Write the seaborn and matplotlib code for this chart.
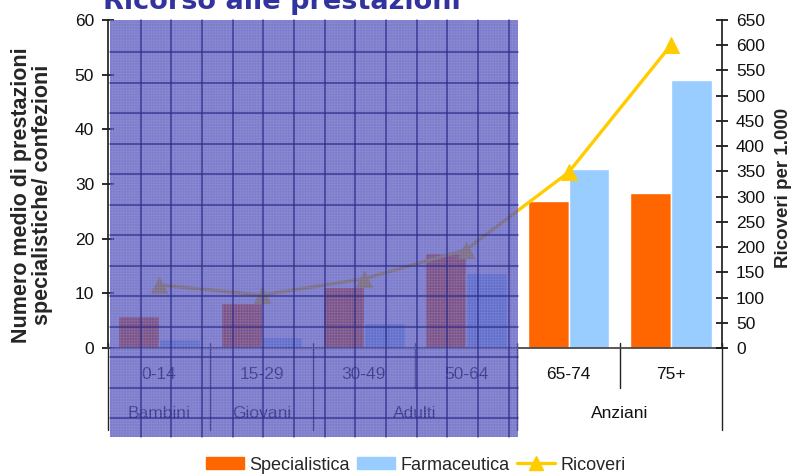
import seaborn as sns
import matplotlib.pyplot as plt
import matplotlib.patches as mpatches
import matplotlib.lines as mlines
import matplotlib.transforms as mtransforms
import numpy as np
import pandas as pd

# Data
fasce = ['0-14', '15-29', '30-49', '50-64', '65-74', '75+']
gruppi = ['Bambini', 'Giovani', 'Adulti', 'Anziani']
gruppi_pos = [0, 1, 2.5, 4.5]
specialistica = [5.9, 8.3, 11.2, 17.3, 26.8, 28.4]
farmaceutica = [1.6, 2.0, 4.5, 13.7, 32.7, 49.0]
ricoveri = [125, 105, 137, 195, 348, 600]

col_spec = '#FF6600'
col_farm = '#99CCFF'
col_ric = '#FFCC00'

df = pd.DataFrame({
    'fascia': fasce * 2,
    'valore': specialistica + farmaceutica,
    'serie': ['Specialistica'] * 6 + ['Farmaceutica'] * 6,
})

sns.set_theme(style='white')
plt.rcParams['font.family'] = ['Liberation Sans', 'DejaVu Sans']
plt.rcParams['hatch.linewidth'] = 0.6

fig = plt.figure(figsize=(7.96, 4.76), dpi=100)
ax = fig.add_axes([108 / 796, 1 - 348 / 476, 614 / 796, 328 / 476])

sns.barplot(data=df, x='fascia', y='valore', hue='serie', order=fasce,
            palette=[col_spec, col_farm], saturation=1, width=0.8, ax=ax,
            legend=False)
ax.set_ylim(0, 60)
ax.set_yticks(range(0, 61, 10))
ax.set_xlim(-0.5, 5.5)
ax.set_xlabel('')
ax.set_ylabel('Numero medio di prestazioni\nspecialistiche/ confezioni',
              fontsize=15.5, fontweight='bold', linespacing=1.05)
ax.yaxis.set_label_coords(-0.089, 0.466)

# Secondary axis for hospital admissions
ax2 = ax.twinx()
sns.lineplot(x=fasce, y=ricoveri, ax=ax2, color=col_ric, linewidth=2.4,
             marker='^', markersize=12, markeredgecolor=col_ric, sort=False)
ax2.set_ylim(0, 650)
ax2.set_yticks(range(0, 651, 50))
ax2.set_xlim(-0.5, 5.5)
ax2.set_ylabel('Ricoveri per 1.000', fontsize=13.5, fontweight='bold')
ax2.yaxis.set_label_coords(1.086, 0.489)

for a in (ax, ax2):
    a.spines['top'].set_visible(False)
    a.tick_params(axis='x', length=0, labelbottom=False)
    a.tick_params(axis='y', direction='inout', length=8, labelsize=12.5,
                  colors='#111111', pad=6)
ax.spines['right'].set_visible(False)
ax2.spines['left'].set_visible(False)
ax2.spines['bottom'].set_visible(False)
ax.spines['left'].set_color('#222222')
ax2.spines['right'].set_color('#222222')
ax.spines['bottom'].set_color('#444444')

# Two-level category axis
trans = mtransforms.blended_transform_factory(ax.transData, ax.transAxes)
for i, lab in enumerate(fasce):
    ax.text(i, -0.082, lab, transform=trans, ha='center', va='center',
            fontsize=12.5, color='#111111')
for p, lab in zip(gruppi_pos, gruppi):
    ax.text(p, -0.2, lab, transform=trans, ha='center', va='center',
            fontsize=12.5, color='#111111')
for sx in [-0.5, 0.5, 1.5, 2.5, 3.5, 4.5, 5.5]:
    low = -0.122 if sx in (2.5, 4.5) else -0.25
    ax.plot([sx, sx], [0.015, low], transform=trans, color='#222222',
            lw=1, clip_on=False)

# Title (cut at the top edge, as in the original slide)
fig.text(103 / 796, 1 - 9 / 476, 'Ricorso alle prestazioni', fontsize=19.5,
         fontweight='bold', color='#3333A0', ha='left', va='baseline',
         family=['DejaVu Sans'])

# Blue gridded overlay on the left part
x0, x1, y0, y1 = 110, 518, 20, 437
overlay = mpatches.Rectangle((x0 / 796, 1 - y1 / 476), (x1 - x0) / 796,
                             (y1 - y0) / 476, transform=fig.transFigure,
                             facecolor=(0.27, 0.27, 0.70, 0.70),
                             edgecolor=(0.62, 0.62, 0.9, 0.35),
                             hatch='++++++', linewidth=0, zorder=10)
fig.patches.append(overlay)
for gx in np.arange(x0 + 30.5, x1, 30.7):
    fig.lines.append(mlines.Line2D([gx / 796, gx / 796],
                                   [1 - y1 / 476, 1 - y0 / 476],
                                   transform=fig.transFigure,
                                   color='#2a2a8a', lw=1.1, alpha=0.8,
                                   zorder=11))
for gy in np.arange(y0 + 32, y1, 30.5):
    fig.lines.append(mlines.Line2D([x0 / 796, x1 / 796],
                                   [1 - gy / 476, 1 - gy / 476],
                                   transform=fig.transFigure,
                                   color='#2a2a8a', lw=1.1, alpha=0.8,
                                   zorder=11))

# Legend
handles = [
    mpatches.Patch(color=col_spec, label='Specialistica'),
    mpatches.Patch(color=col_farm, label='Farmaceutica'),
    mlines.Line2D([], [], color=col_ric, lw=2.4, marker='^', markersize=10,
                  label='Ricoveri'),
]
fig.legend(handles=handles, loc='center', ncol=3, frameon=False,
           bbox_to_anchor=(416 / 796, 1 - 465 / 476), fontsize=13,
           handlelength=2.1, handleheight=0.6, handletextpad=0.3,
           columnspacing=0.4)

fig.savefig('out.png', dpi=100)
